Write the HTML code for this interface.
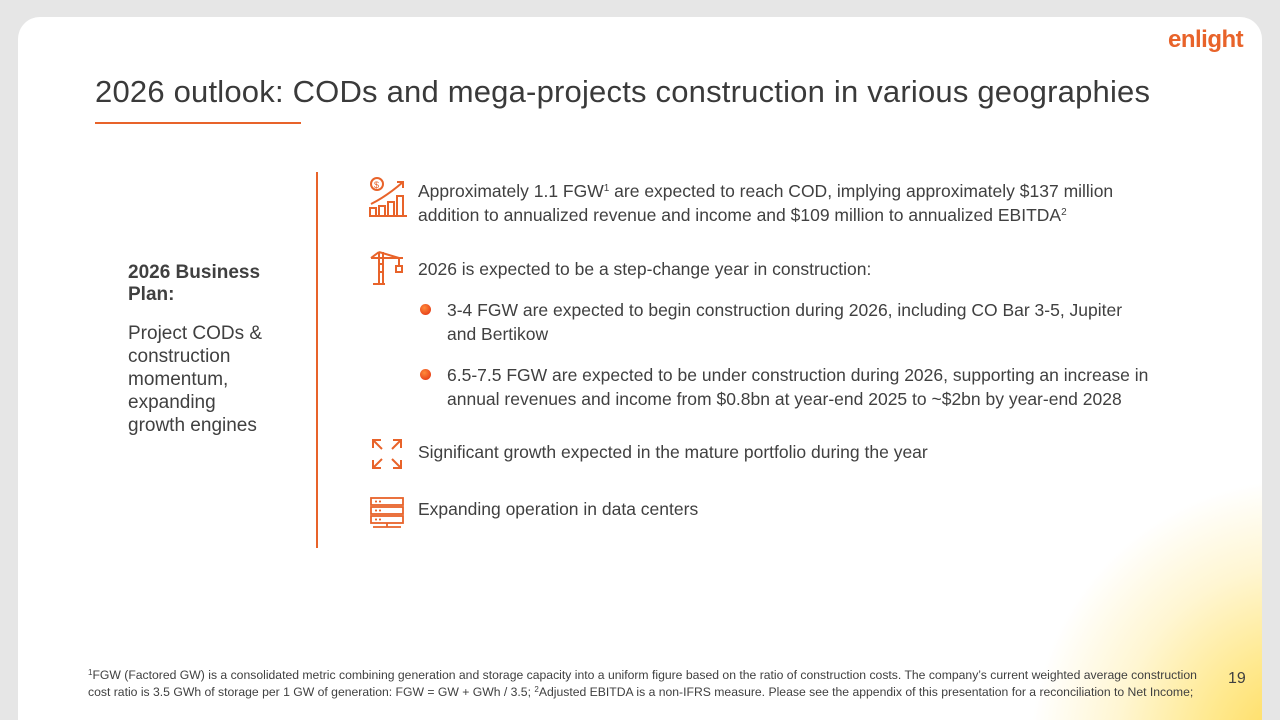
<!DOCTYPE html>
<html><head><meta charset="utf-8"><style>
html,body{margin:0;width:1280px;height:720px;overflow:hidden}
body{background:#e6e6e6;font-family:"Liberation Sans",sans-serif;position:relative}
.card{position:absolute;left:18px;top:17px;width:1244px;height:703px;background:#fff;border-radius:22px 22px 0 0;overflow:hidden}
.glow{position:absolute;left:1010px;top:460px;width:420px;height:420px;border-radius:50%;background:radial-gradient(circle at 65% 65%,#ffd84f 0%,#ffe98f 25%,#fff6d2 48%,rgba(255,255,255,0) 70%)}
.t{position:absolute;color:#404040;white-space:nowrap}
.ico{position:absolute}
sup{line-height:0;vertical-align:6px}
</style></head><body>
<div class="card">
<div class="glow"></div>
</div>
<div class="t" style="left:1168px;top:26px;font-size:24px;font-weight:bold;color:#e8632a;letter-spacing:-0.5px">enlight</div>
<div class="t" style="left:95px;top:74px;font-size:31px;color:#3a3a3a;letter-spacing:0.2px">2026 outlook: CODs and mega-projects construction in various geographies</div>
<div style="position:absolute;left:95px;top:122px;width:206px;height:2px;background:#e8632a"></div>
<div style="position:absolute;left:316px;top:172px;width:1.5px;height:376px;background:#e8632a"></div>
<div class="t" style="left:128px;top:262px;font-size:19px;font-weight:bold;line-height:22px">2026 Business<br>Plan:</div>
<div class="t" style="left:128px;top:322px;font-size:19px;line-height:23px">Project CODs &amp;<br>construction<br>momentum,<br>expanding<br>growth engines</div>

<svg class="ico" style="left:367px;top:176px" width="42" height="42" viewBox="0 0 42 42" fill="none" stroke="#e8632a" stroke-width="2"><circle cx="10" cy="8" r="6"/><text x="7" y="12" font-size="9" fill="#e8632a" stroke="none">$</text><path d="M4 28 Q20 20 36 6 M30 6 h6 v6"/><path d="M3 40 v-8 h6 v8 M12 40 v-10 h6 v10 M21 40 v-14 h6 v14 M30 40 v-20 h6 v20 M2 40 h38"/></svg>
<div class="t" style="left:418px;top:179px;font-size:17.5px;line-height:24px">Approximately 1.1 FGW<sup style="font-size:10px">1</sup> are expected to reach COD, implying approximately $137 million<br>addition to annualized revenue and income and $109 million to annualized EBITDA<sup style="font-size:10px">2</sup></div>

<svg class="ico" style="left:369px;top:250px" width="40" height="36" viewBox="0 0 40 36" fill="none" stroke="#e8632a" stroke-width="2"><path d="M2 8 h32 M10 2 L2 8 M10 2 L30 8 M10 2 v32 M4 34 h12 M14 2 v32 M10 14 h4 M10 22 h4 M30 8 v8 M27 16 h6 v6 h-6 z"/></svg>
<div class="t" style="left:418px;top:259px;font-size:17.5px">2026 is expected to be a step-change year in construction:</div>

<div style="position:absolute;left:420px;top:304px;width:11px;height:11px;border-radius:50%;background:radial-gradient(circle at 40% 35%,#ff8a3a,#e02a10)"></div>
<div class="t" style="left:447px;top:298px;font-size:17.5px;line-height:24px">3-4 FGW are expected to begin construction during 2026, including CO Bar 3-5, Jupiter<br>and Bertikow</div>
<div style="position:absolute;left:420px;top:369px;width:11px;height:11px;border-radius:50%;background:radial-gradient(circle at 40% 35%,#ff8a3a,#e02a10)"></div>
<div class="t" style="left:447px;top:363px;font-size:17.5px;line-height:24px">6.5-7.5 FGW are expected to be under construction during 2026, supporting an increase in<br>annual revenues and income from $0.8bn at year-end 2025 to ~$2bn by year-end 2028</div>

<svg class="ico" style="left:371px;top:438px" width="32" height="32" viewBox="0 0 32 32" fill="none" stroke="#e8632a" stroke-width="2"><path d="M2 10 V2 H10 M2 2 L11 11 M22 2 H30 V10 M30 2 L21 11 M2 22 V30 H10 M2 30 L11 21 M30 22 V30 H22 M30 30 L21 21"/></svg>
<div class="t" style="left:418px;top:442px;font-size:17.5px">Significant growth expected in the mature portfolio during the year</div>

<svg class="ico" style="left:369px;top:496px" width="36" height="34" viewBox="0 0 36 34" fill="none" stroke="#e8632a" stroke-width="1.8"><rect x="2" y="2" width="32" height="7"/><rect x="2" y="11" width="32" height="7"/><rect x="2" y="20" width="32" height="7"/><path d="M18 27 v4 M4 31 h28 M6 5.5h2 M10 5.5h2 M6 14.5h2 M10 14.5h2 M6 23.5h2 M10 23.5h2"/></svg>
<div class="t" style="left:418px;top:499px;font-size:17.5px">Expanding operation in data centers</div>

<div class="t" style="left:88px;top:667px;font-size:12.2px;line-height:17px;color:#404040"><sup style="font-size:8px;vertical-align:4px">1</sup>FGW (Factored GW) is a consolidated metric combining generation and storage capacity into a uniform figure based on the ratio of construction costs. The company’s current weighted average construction<br>cost ratio is 3.5 GWh of storage per 1 GW of generation: FGW = GW + GWh / 3.5; <sup style="font-size:8px;vertical-align:4px">2</sup>Adjusted EBITDA is a non-IFRS measure. Please see the appendix of this presentation for a reconciliation to Net Income;</div>
<div class="t" style="left:1228px;top:670px;font-size:16px">19</div>
</body></html>
